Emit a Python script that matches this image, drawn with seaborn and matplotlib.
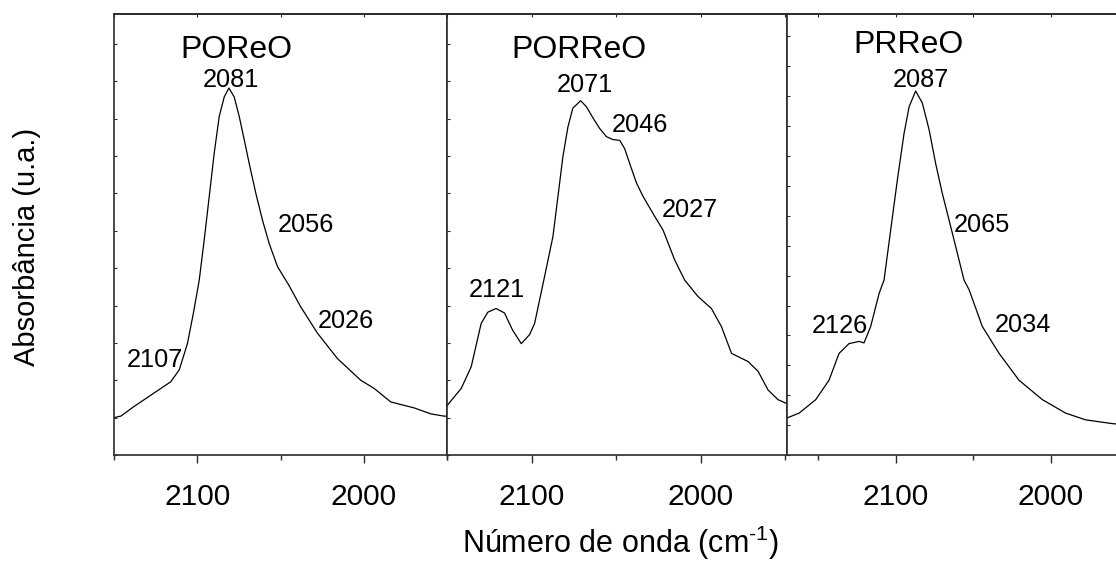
import matplotlib
matplotlib.use("Agg")
import matplotlib.pyplot as plt
import numpy as np
import pandas as pd
import seaborn as sns
from matplotlib.ticker import MultipleLocator, NullFormatter

# --- spectra: wavenumber (cm-1) and absorbance (a.u.) ---
poreo_wn = [2150.0, 2145.9, 2137.9, 2127.9, 2115.9, 2110.8, 2105.9, 2102.3, 2098.8,
            2095.8, 2092.8, 2089.8, 2086.8, 2083.8, 2081.0, 2077.8, 2074.8, 2071.8,
            2068.8, 2064.8, 2060.8, 2056.8, 2051.8, 2045.2, 2037.8, 2027.8, 2015.8,
            2001.8, 1993.7, 1983.8, 1969.7, 1959.7, 1951.7, 1950.0]
poreo_abs = [0.050, 0.052, 0.065, 0.080, 0.098, 0.114, 0.149, 0.190, 0.234,
             0.288, 0.346, 0.404, 0.453, 0.479, 0.491, 0.479, 0.453, 0.422,
             0.390, 0.350, 0.314, 0.283, 0.252, 0.228, 0.198, 0.163, 0.129,
             0.100, 0.089, 0.071, 0.063, 0.055, 0.052, 0.052]

porreo_wn = [2150.0, 2141.6, 2135.7, 2129.8, 2125.9, 2121.0, 2116.0, 2111.2, 2106.1,
             2101.2, 2098.2, 2092.3, 2087.4, 2084.4, 2081.5, 2078.5, 2075.6, 2071.0,
             2067.6, 2063.7, 2059.8, 2055.8, 2051.9, 2047.9, 2045.0, 2042.0, 2038.0,
             2034.1, 2028.2, 2022.3, 2015.4, 2009.5, 2001.6, 1993.7, 1987.8, 1981.8,
             1972.0, 1966.1, 1960.2, 1954.3, 1949.3]
porreo_abs = [0.066, 0.089, 0.118, 0.176, 0.191, 0.196, 0.190, 0.167, 0.149,
              0.161, 0.176, 0.239, 0.292, 0.346, 0.399, 0.439, 0.464, 0.474,
              0.466, 0.451, 0.437, 0.426, 0.422, 0.421, 0.410, 0.390, 0.364,
              0.346, 0.323, 0.301, 0.261, 0.234, 0.212, 0.196, 0.172, 0.136,
              0.125, 0.112, 0.087, 0.074, 0.069]

prreo_wn = [2171.9, 2162.2, 2151.5, 2142.9, 2136.4, 2130.0, 2123.5, 2120.3, 2116.0,
            2110.6, 2107.4, 2103.1, 2098.8, 2094.5, 2091.2, 2087.0, 2082.7, 2078.3,
            2074.1, 2069.8, 2065.4, 2060.1, 2055.8, 2052.5, 2044.0, 2033.2, 2020.3,
            2005.2, 1990.2, 1977.3, 1960.1, 1950.0]
prreo_abs = [0.048, 0.056, 0.074, 0.100, 0.136, 0.149, 0.152, 0.150, 0.172,
             0.216, 0.234, 0.301, 0.368, 0.430, 0.466, 0.487, 0.471, 0.435,
             0.390, 0.350, 0.314, 0.270, 0.234, 0.221, 0.172, 0.136, 0.100,
             0.074, 0.056, 0.047, 0.042, 0.040]

sample_names = ["POReO", "PORReO", "PRReO"]
band_labels = [["2081", "2056", "2026", "2107"],
               ["2071", "2046", "2027", "2121"],
               ["2087", "2065", "2034", "2126"]]

# --- layout of the text inside each panel (wavenumber, absorbance) ---
title_pos = [(2076.3, 0.531), (2071.9, 0.531), (2091.4, 0.538)]
band_pos = [[(2079.9, 0.493), (2034.8, 0.299), (2010.5, 0.170), (2125.2, 0.118)],
            [(2068.3, 0.485), (2036.1, 0.4325), (2006.3, 0.318), (2120.5, 0.211)],
            [(2083.9, 0.493), (2044.1, 0.299), (2018.1, 0.165), (2135.6, 0.163)]]

sns.set_style("ticks")
plt.rcParams["font.family"] = ["Liberation Sans", "DejaVu Sans"]
plt.rcParams["mathtext.fontset"] = "custom"
plt.rcParams["mathtext.rm"] = "Liberation Sans"
plt.rcParams["mathtext.it"] = "Liberation Sans:italic"
plt.rcParams["mathtext.default"] = "regular"
plt.rcParams["text.color"] = "black"
plt.rcParams["xtick.labelcolor"] = "black"
plt.rcParams["axes.labelcolor"] = "black"

W, H = 1116, 562
fig = plt.figure(figsize=(W / 100, H / 100), dpi=100)

bottom, height = (H - 455) / H, 441 / H
panels = [
    dict(left=114, width=333, xlim=(2150, 1950), ystep=0.05),
    dict(left=447, width=340, xlim=(2150, 1949), ystep=0.05),
    dict(left=787, width=341, xlim=(2170, 1950), ystep=0.04),
]
series = [(poreo_wn, poreo_abs), (porreo_wn, porreo_abs), (prreo_wn, prreo_abs)]

spine_col = "#2b2b2b"
for i, (p, (wn, ab)) in enumerate(zip(panels, series)):
    ax = fig.add_axes([p["left"] / W, bottom, p["width"] / W, height])
    df = pd.DataFrame({"wn": wn, "abs": ab})
    sns.lineplot(data=df, x="wn", y="abs", ax=ax, color="black", lw=0.9,
                 estimator=None, sort=False)
    ax.set_xlim(*p["xlim"])
    ax.set_ylim(0, 0.59)
    ax.set_xlabel("")
    ax.set_ylabel("")

    ax.xaxis.set_major_locator(MultipleLocator(100))
    ax.xaxis.set_minor_locator(MultipleLocator(50))
    ax.tick_params(axis="x", which="major", direction="out", length=6,
                   width=1.0, color=spine_col, pad=14, labelsize=21.5,
                   labelcolor="black")
    ax.tick_params(axis="x", which="minor", direction="out", length=3.6,
                   width=1.0, color=spine_col)

    ax.yaxis.set_major_locator(MultipleLocator(p["ystep"]))
    ax.yaxis.set_major_formatter(NullFormatter())
    ax.tick_params(axis="y", which="major", direction="in", length=2.5,
                   width=0.8, color=spine_col, left=True, right=False)

    for s in ax.spines.values():
        s.set_visible(True)
        s.set_color(spine_col)
        s.set_linewidth(1.2)

    top = ax.secondary_xaxis("top")
    top.xaxis.set_major_locator(MultipleLocator(50))
    top.tick_params(direction="in", length=2.5, width=0.8, color=spine_col,
                    labeltop=False)
    top.spines["top"].set_color(spine_col)
    top.spines["top"].set_linewidth(1.2)

    tx, ty = title_pos[i]
    ax.text(tx, ty, sample_names[i], ha="center", va="baseline", fontsize=23,
            color="black")
    for lab, (bx, by) in zip(band_labels[i], band_pos[i]):
        ax.text(bx, by, lab, ha="center", va="baseline", fontsize=18.3,
                color="black")

fig.text(620 / W, 8.5 / H, "Número de onda (cm$^{\\text{-}1}$)", ha="center",
         va="baseline", fontsize=22, color="black")
fig.text(27.5 / W, (H - 246.7) / H, "Absorbância (u.a.)", rotation=90,
         ha="center", va="center", fontsize=21, color="black")

fig.savefig("out.png", dpi=100)
